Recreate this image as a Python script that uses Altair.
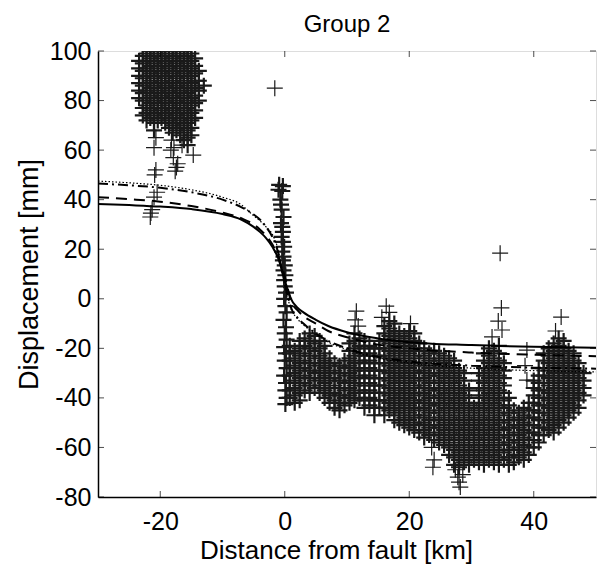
import altair as alt
import pandas as pd

# ---------------- data ----------------
x_ticks = [-20, 0, 20, 40]
y_ticks = [-80, -60, -40, -20, 0, 20, 40, 60, 80, 100]

# cluster west of the fault (x, list of y)
cluster_west = [
    (-23.4, [96, 93, 90, 87, 84, 81]),
    (-22.8, [101, 98, 95, 92, 89, 86, 83, 80, 77, 74]),
    (-22.2, [102, 99, 96, 93, 90, 87, 84, 81, 78, 75, 72]),
    (-21.6, [100, 97, 94, 91, 88, 85, 82, 79, 76, 73]),
    (-21.0, [104, 101, 98, 95, 92, 89, 86, 83, 80, 77, 74, 71, 68]),
    (-20.4, [102, 99, 96, 93, 90, 87, 84, 81, 78, 75, 72]),
    (-19.8, [103, 100, 97, 94, 91, 88, 85, 82, 79, 76, 73]),
    (-19.2, [101, 98, 95, 92, 89, 86, 83, 80, 77, 74, 71]),
    (-18.6, [102, 99, 96, 93, 90, 87, 84, 81, 78, 75, 72, 69]),
    (-18.0, [103, 100, 97, 94, 91, 88, 85, 82, 79, 76, 73, 70, 67]),
    (-17.4, [101, 98, 95, 92, 89, 86, 83, 80, 77, 74, 71, 68]),
    (-16.8, [102, 99, 96, 93, 90, 87, 84, 81, 78, 75, 72, 69, 66]),
    (-16.2, [103, 100, 97, 94, 91, 88, 85, 82, 79, 76, 73, 70, 67, 64]),
    (-15.6, [101, 98, 95, 92, 89, 86, 83, 80, 77, 74, 71, 68, 65, 62]),
    (-15.0, [102, 99, 96, 93, 90, 87, 84, 81, 78, 75, 72, 69, 66]),
    (-14.4, [97, 94, 91, 88, 85, 82, 79, 76, 73]),
    (-13.8, [92, 88, 84, 80]),
    (-13.0, [86]),
]
west_tail_x = [-20.7, -21.0, -20.7, -20.9, -20.5, -21.0, -21.5, -21.6, -21.3, -17.4, -17.2, -17.6, -17.8, -18.3, -14.7, -17.9, -18.2, -16.5, -1.6]
west_tail_y = [65, 61, 52, 50, 43, 41, 34.6, 33, 36, 53, 54.5, 51.5, 61, 60, 58, 57, 64, 62, 85]

# column of points at the fault
fault_x = [-0.9, -0.3, -1.0, -0.4, -0.7, -0.6, -0.5, -0.2, -0.6, -0.4, -0.3, -0.5, -0.3, -0.1, -0.4, -0.2, -0.3, 0.0, -0.2, 0.1,
           -0.1, 0.0, 0.2, -0.1, 0.1, 0.3, -0.2, 0.2, 0.0, 0.3, -0.1, 0.2, 0.0, 0.3, -0.1, 0.2, 0.1, 0.3, 0.1]
fault_y = [46, 45.5, 44, 43.5, 40, 38, 36, 33, 30.5, 29, 27, 25, 23, 21, 19, 17, 15.5, 13.5, 11.5, 9.5,
           7.5, 5, 2.5, 0, -3, -5.5, -8.5, -11.5, -14, -16.5, -19.5, -22, -25, -28, -31, -34, -37, -40, -42.5]

# band east of the fault, x from 0 to 22 km
cluster_east_near = [
    (0.8, [-19, -22, -25, -28, -31, -34, -37, -40]),
    (1.6, [-21, -24, -27, -30, -33, -36, -39, -42]),
    (2.4, [-17, -20, -23, -26, -29, -32, -35, -38, -41]),
    (3.2, [-16, -19, -22, -25, -28, -31, -34, -37]),
    (4.0, [-14, -17, -20, -23, -26, -29, -32, -35, -38]),
    (4.8, [-15, -18, -21, -24, -27, -30, -33, -36]),
    (5.6, [-17, -20, -23, -26, -29, -32, -35, -38]),
    (6.4, [-19, -22, -25, -28, -31, -34, -37, -40]),
    (7.2, [-24, -27, -30, -33, -36, -39, -42]),
    (8.0, [-26, -29, -32, -35, -38, -41, -44]),
    (8.8, [-27, -30, -33, -36, -39, -42, -45]),
    (9.6, [-25, -28, -31, -34, -37, -40, -43]),
    (10.4, [-18, -21, -24, -27, -30, -33, -36, -39, -42]),
    (11.2, [-14, -17, -20, -23, -26, -29, -32, -35, -38, -41]),
    (12.0, [-16, -19, -22, -25, -28, -31, -34, -37, -40]),
    (12.8, [-17, -20, -23, -26, -29, -32, -35, -38, -41, -44]),
    (13.6, [-19, -22, -25, -28, -31, -34, -37, -40, -43]),
    (14.4, [-20, -23, -26, -29, -32, -35, -38, -41, -44, -47]),
    (15.2, [-17, -20, -23, -26, -29, -32, -35, -38, -41, -44]),
    (16.0, [-11, -14, -17, -20, -23, -26, -29, -32, -35, -38, -41, -44, -47]),
    (16.8, [-9, -12, -15, -18, -21, -24, -27, -30, -33, -36, -39, -42, -45]),
    (17.6, [-10, -13, -16, -19, -22, -25, -28, -31, -34, -37, -40, -43, -46, -49]),
    (18.4, [-14, -17, -20, -23, -26, -29, -32, -35, -38, -41, -44, -47, -50]),
    (19.2, [-15, -18, -21, -24, -27, -30, -33, -36, -39, -42, -45, -48, -51]),
    (20.0, [-13, -16, -19, -22, -25, -28, -31, -34, -37, -40, -43, -46, -49, -52]),
    (20.8, [-14, -17, -20, -23, -26, -29, -32, -35, -38, -41, -44, -47, -50, -53]),
    (21.6, [-18, -21, -24, -27, -30, -33, -36, -39, -42, -45, -48, -51, -54]),
]

# band far east, x from 22 to 48 km
cluster_east_far = [
    (22.4, [-20, -23, -26, -29, -32, -35, -38, -41, -44, -47, -50, -53, -56]),
    (23.2, [-22, -25, -28, -31, -34, -37, -40, -43, -46, -49, -52, -55]),
    (24.0, [-21, -24, -27, -30, -33, -36, -39, -42, -45, -48, -51, -54, -57]),
    (24.8, [-22, -25, -28, -31, -34, -37, -40, -43, -46, -49, -52, -55, -58]),
    (25.6, [-23, -26, -29, -32, -35, -38, -41, -44, -47, -50, -53, -56, -59]),
    (26.4, [-24, -27, -30, -33, -36, -39, -42, -45, -48, -51, -54, -57, -60, -63]),
    (27.2, [-25, -28, -31, -34, -37, -40, -43, -46, -49, -52, -55, -58, -61, -64, -67]),
    (28.0, [-29, -32, -35, -38, -41, -44, -47, -50, -53, -56, -59, -62, -65, -68]),
    (28.8, [-30, -33, -36, -39, -42, -45, -48, -51, -54, -57, -60, -63, -66]),
    (29.6, [-37, -40, -43, -46, -49, -52, -55, -58, -61, -64, -67]),
    (30.4, [-44, -47, -50, -53, -56, -59, -62, -65]),
    (31.2, [-30, -33, -36, -39, -42, -45, -48, -51, -54, -57, -60, -63, -66]),
    (32.0, [-22, -25, -28, -31, -34, -37, -40, -43, -46, -49, -52, -55, -58, -61, -64, -67]),
    (32.8, [-20, -23, -26, -29, -32, -35, -38, -41, -44, -47, -50, -53, -56, -59, -62, -65]),
    (33.6, [-21, -24, -27, -30, -33, -36, -39, -42, -45, -48, -51, -54, -57, -60, -63, -66]),
    (34.4, [-19, -22, -25, -28, -31, -34, -37, -40, -43, -46, -49, -52, -55, -58, -61, -64, -67]),
    (35.2, [-26, -29, -32, -35, -38, -41, -44, -47, -50, -53, -56, -59, -62, -65]),
    (36.0, [-40, -43, -46, -49, -52, -55, -58, -61, -64, -67]),
    (36.8, [-45, -48, -51, -54, -57, -60, -63, -66]),
    (37.6, [-46, -49, -52, -55, -58, -61, -64]),
    (38.4, [-44, -47, -50, -53, -56, -59, -62, -65]),
    (39.2, [-42, -45, -48, -51, -54, -57, -60, -63]),
    (40.0, [-33, -36, -39, -42, -45, -48, -51, -54, -57, -60]),
    (40.8, [-28, -31, -34, -37, -40, -43, -46, -49, -52, -55, -58]),
    (41.6, [-22, -25, -28, -31, -34, -37, -40, -43, -46, -49, -52, -55]),
    (42.4, [-20, -23, -26, -29, -32, -35, -38, -41, -44, -47, -50, -53]),
    (43.2, [-18, -21, -24, -27, -30, -33, -36, -39, -42, -45, -48, -51, -54]),
    (44.0, [-16, -19, -22, -25, -28, -31, -34, -37, -40, -43, -46, -49, -52]),
    (44.8, [-17, -20, -23, -26, -29, -32, -35, -38, -41, -44, -47, -50]),
    (45.6, [-21, -24, -27, -30, -33, -36, -39, -42, -45, -48]),
    (46.4, [-22, -25, -28, -31, -34, -37, -40, -43, -46]),
    (47.2, [-26, -29, -32, -35, -38, -41, -44]),
    (48.0, [-30, -33, -36, -39]),
]

# isolated points in the east
east_outlier_x = [11.5, 11.3, 11.8, 16.3, 16.8, 15.6, 20.2, 23.6, 24.0, 23.8, 27.4, 27.8, 28.2, 28.0, 28.6,
                  33.3, 34.6, 34.8, 34.9, 34.3, 38.9, 38.9, 38.6, 43.5, 44.4]
east_outlier_y = [-5, -8.5, -11, -3, -5.5, -7.5, -10, -60, -65, -68, -69, -72, -76, -74, -71,
                  -15.4, 18.4, -3.7, -12.6, -9, -20.7, -32.8, -27, -13, -7.4]

# model curves
line_x = [-30, -25, -20, -15, -10, -7, -5, -4, -3, -2, -1, -0.5, 0, 0.5, 1, 2, 3, 5, 7, 10, 15, 20, 30, 40, 50]
solid_y = [38.3, 37.8, 37.2, 36.2, 34.2, 32, 29, 27, 24.5, 21, 16, 12, 7.5, 3.5, 0, -3.5, -5.5, -8.5, -11, -13.5, -16, -17.5, -18.7, -19.4, -19.8]
dashed_y = [41, 40.2, 39.2, 37.4, 34.8, 32.5, 30, 28, 25.5, 22, 17, 13, 9, 4, -1, -4.5, -7, -10, -13, -15.5, -18.5, -20, -21.7, -22.6, -23.2]
dashdot_y = [46.5, 45.8, 44.8, 43, 40, 37, 34, 32, 29, 25, 18, 12, 6, 1, -3.5, -7.5, -10, -14, -17, -20, -23.5, -25.3, -27, -27.8, -28.2]
dotted_y = [47.5, 46.8, 45.8, 44, 41, 38, 33.5, 31.5, 29, 26, 19, 12, 5, 0, -4, -8, -10.5, -14.5, -17.5, -20.5, -24, -26, -28, -29, -29.5]

# ---------------- build tables ----------------
dx, dy = [], []
for cluster in (cluster_west, cluster_east_near, cluster_east_far):
    for cx, ys in cluster:
        for yy in ys:
            dx.append(cx)
            dy.append(yy)
dense = pd.DataFrame({"x": dx + fault_x, "y": dy + fault_y})
sparse = pd.DataFrame({"x": west_tail_x + east_outlier_x, "y": west_tail_y + east_outlier_y})

lines = pd.DataFrame({"x": line_x, "solid": solid_y, "dashed": dashed_y,
                      "dashdot": dashdot_y, "dotted": dotted_y})
xt = pd.DataFrame({"v": x_ticks})
yt = pd.DataFrame({"v": y_ticks})

FONT = "Liberation Sans"
FS = 25
W, H = 498, 446

xscale = alt.Scale(domain=[-30, 50], nice=False, zero=False)
yscale = alt.Scale(domain=[-80, 100], nice=False, zero=False)
xaxis = alt.Axis(values=x_ticks, title="Distance from fault [km]", grid=False, ticks=False, tickSize=0,
                 labelPadding=12, labelFontSize=FS, titleFontSize=26, titleFontWeight="normal",
                 labelFont=FONT, titleFont=FONT, labelColor="black", titleColor="black",
                 labelExpr="datum.value + ''", titleX=238,
                 domainColor="black", domainWidth=1.5, titlePadding=3, labelFlush=False)
yaxis = alt.Axis(values=y_ticks, title="Displacement [mm]", grid=False, ticks=False, tickSize=0,
                 labelPadding=7, labelFontSize=FS, titleFontSize=27, titleFontWeight="normal",
                 labelFont=FONT, titleFont=FONT, labelColor="black", titleColor="black",
                 labelExpr="datum.value + ''",
                 domainColor="black", domainWidth=1.5, titlePadding=6, labelFlush=False)


def X(field):
    return alt.X(f"{field}:Q", scale=xscale, axis=xaxis)


def Y(field):
    return alt.Y(f"{field}:Q", scale=yscale, axis=yaxis)


PLUS = "M-1,0H1M0,-1V1"
pts_dense = alt.Chart(dense).mark_point(shape=PLUS, filled=False, size=256, strokeWidth=2.2,
                                        color="#1a1a1a", opacity=1, clip=True).encode(x=X("x"), y=Y("y"))
pts_sparse = alt.Chart(sparse).mark_point(shape=PLUS, filled=False, size=256, strokeWidth=1.2,
                                          color="#1a1a1a", opacity=1, clip=True).encode(x=X("x"), y=Y("y"))


def curve(col, dash, width):
    kw = dict(color="black", strokeWidth=width, interpolate="monotone", clip=True)
    if dash:
        kw["strokeDash"] = dash
    return alt.Chart(lines).mark_line(**kw).encode(x=X("x"), y=Y(col))


l_solid = curve("solid", None, 2)
l_dashed = curve("dashed", [11, 7], 2)
l_dashdot = curve("dashdot", [10, 4, 2, 4], 2)
l_dotted = curve("dotted", [1.5, 2], 1.2)

tk = dict(color="black", thickness=1, size=6)
t_bottom = alt.Chart(xt).mark_tick(orient="vertical", **tk).encode(x=X("v"), y=alt.value(H - 3))
t_top = alt.Chart(xt).mark_tick(orient="vertical", **tk).encode(x=X("v"), y=alt.value(3))
t_left = alt.Chart(yt).mark_tick(orient="horizontal", **tk).encode(y=Y("v"), x=alt.value(3))
t_right = alt.Chart(yt).mark_tick(orient="horizontal", **tk).encode(y=Y("v"), x=alt.value(W - 3))

chart = alt.layer(pts_dense, pts_sparse, l_solid, l_dashed, l_dashdot, l_dotted,
                  t_bottom, t_top, t_left, t_right).properties(
    width=W, height=H,
    title=alt.TitleParams("Group 2", fontSize=FS - 1, font=FONT, fontWeight="normal", color="black",
                          anchor="middle", offset=2),
    autosize=alt.AutoSizeParams(type="none"),
    padding={"left": 98, "top": 51, "right": 4, "bottom": 75},
).configure_view(stroke="black", strokeWidth=1).configure(background="white")

chart.save("out.html", embed_options={"renderer": "svg", "actions": False})
